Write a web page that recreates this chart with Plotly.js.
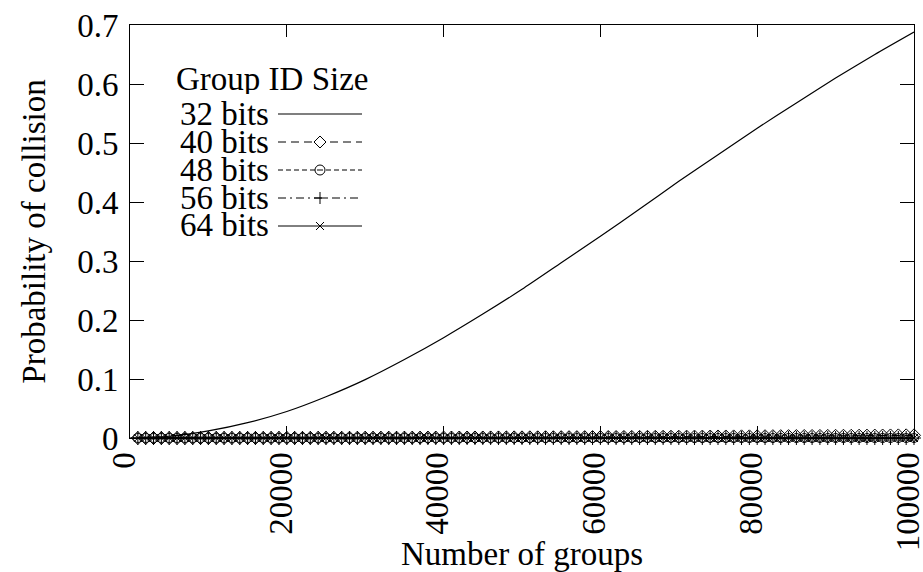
<!DOCTYPE html>
<html>
<head>
<meta charset="utf-8">
<script src="https://cdn.plot.ly/plotly-3.0.1.min.js"></script>
<style>
html,body{margin:0;padding:0;background:#fff;}
#chart{width:923px;height:572px;}
</style>
</head>
<body>
<div id="chart"></div>
<script>
// ---- data ----
const seriesNames = ["32 bits", "40 bits", "48 bits", "56 bits", "64 bits"];
const legendTitle = "Group ID Size";
const xTitle = "Number of groups";
const yTitle = "Probability of collision";

// 32-bit curve, sampled every 5000 groups
const curveGroups = [0, 5000, 10000, 15000, 20000, 25000, 30000, 35000, 40000, 45000, 50000,
  55000, 60000, 65000, 70000, 75000, 80000, 85000, 90000, 95000, 100000];
const bits32 = [0, 0.003, 0.012, 0.026, 0.045, 0.070, 0.099, 0.133, 0.170, 0.210, 0.252,
  0.297, 0.342, 0.388, 0.435, 0.480, 0.525, 0.568, 0.610, 0.650, 0.688];

// marker series, sampled every 1000 groups
const groups = [
  1000, 2000, 3000, 4000, 5000, 6000, 7000, 8000, 9000, 10000,
  11000, 12000, 13000, 14000, 15000, 16000, 17000, 18000, 19000, 20000,
  21000, 22000, 23000, 24000, 25000, 26000, 27000, 28000, 29000, 30000,
  31000, 32000, 33000, 34000, 35000, 36000, 37000, 38000, 39000, 40000,
  41000, 42000, 43000, 44000, 45000, 46000, 47000, 48000, 49000, 50000,
  51000, 52000, 53000, 54000, 55000, 56000, 57000, 58000, 59000, 60000,
  61000, 62000, 63000, 64000, 65000, 66000, 67000, 68000, 69000, 70000,
  71000, 72000, 73000, 74000, 75000, 76000, 77000, 78000, 79000, 80000,
  81000, 82000, 83000, 84000, 85000, 86000, 87000, 88000, 89000, 90000,
  91000, 92000, 93000, 94000, 95000, 96000, 97000, 98000, 99000, 100000];
const bits40 = [
  0, 0, 0, 0, 0, 0, 0, 0, 0, 0,
  0.0001, 0.0001, 0.0001, 0.0001, 0.0001, 0.0001, 0.0001, 0.0001, 0.0002, 0.0002,
  0.0002, 0.0002, 0.0002, 0.0003, 0.0003, 0.0003, 0.0003, 0.0004, 0.0004, 0.0004,
  0.0004, 0.0005, 0.0005, 0.0005, 0.0006, 0.0006, 0.0006, 0.0007, 0.0007, 0.0007,
  0.0008, 0.0008, 0.0008, 0.0009, 0.0009, 0.0010, 0.0010, 0.0010, 0.0011, 0.0011,
  0.0012, 0.0012, 0.0013, 0.0013, 0.0014, 0.0014, 0.0015, 0.0015, 0.0016, 0.0016,
  0.0017, 0.0017, 0.0018, 0.0019, 0.0019, 0.0020, 0.0020, 0.0021, 0.0022, 0.0022,
  0.0023, 0.0024, 0.0024, 0.0025, 0.0026, 0.0026, 0.0027, 0.0028, 0.0028, 0.0029,
  0.0030, 0.0031, 0.0031, 0.0032, 0.0033, 0.0034, 0.0034, 0.0035, 0.0036, 0.0037,
  0.0038, 0.0038, 0.0039, 0.0040, 0.0041, 0.0042, 0.0043, 0.0044, 0.0045, 0.0045];
const bits48 = [
  0,0,0,0,0,0,0,0,0,0, 0,0,0,0,0,0,0,0,0,0,
  0,0,0,0,0,0,0,0,0,0, 0,0,0,0,0,0,0,0,0,0,
  0,0,0,0,0,0,0,0,0,0, 0,0,0,0,0,0,0,0,0,0,
  0,0,0,0,0,0,0,0,0,0, 0,0,0,0,0,0,0,0,0,0,
  0,0,0,0,0,0,0,0,0,0, 0,0,0,0,0,0,0,0,0,0];
const bits56 = [
  0,0,0,0,0,0,0,0,0,0, 0,0,0,0,0,0,0,0,0,0,
  0,0,0,0,0,0,0,0,0,0, 0,0,0,0,0,0,0,0,0,0,
  0,0,0,0,0,0,0,0,0,0, 0,0,0,0,0,0,0,0,0,0,
  0,0,0,0,0,0,0,0,0,0, 0,0,0,0,0,0,0,0,0,0,
  0,0,0,0,0,0,0,0,0,0, 0,0,0,0,0,0,0,0,0,0];
const bits64 = [
  0,0,0,0,0,0,0,0,0,0, 0,0,0,0,0,0,0,0,0,0,
  0,0,0,0,0,0,0,0,0,0, 0,0,0,0,0,0,0,0,0,0,
  0,0,0,0,0,0,0,0,0,0, 0,0,0,0,0,0,0,0,0,0,
  0,0,0,0,0,0,0,0,0,0, 0,0,0,0,0,0,0,0,0,0,
  0,0,0,0,0,0,0,0,0,0, 0,0,0,0,0,0,0,0,0,0];

// ---- styling ----
const FONT = "Liberation Serif, DejaVu Serif, Times New Roman, serif";
const FS = 33;
const INK = "#000";

const styles = [
  {dash: "solid", symbol: null, size: 0},
  {dash: "8px,5px", symbol: "diamond-open", size: 10},
  {dash: "5px,3px", symbol: "circle-open", size: 9},
  {dash: "8px,4px,2px,4px", symbol: "cross-thin-open", size: 10},
  {dash: "solid", symbol: "x-thin-open", size: 8}
];

const traces = [{
  x: curveGroups, y: bits32, name: seriesNames[0], type: "scatter", mode: "lines",
  line: {color: INK, width: 1.2, shape: "spline", smoothing: 0.6},
  showlegend: false, hoverinfo: "skip"
}];
[bits40, bits48, bits56, bits64].forEach((ys, i) => {
  const s = styles[i + 1];
  traces.push({
    x: groups, y: ys, name: seriesNames[i + 1], type: "scatter", mode: "lines+markers",
    line: {color: INK, width: 1, dash: s.dash},
    marker: {symbol: s.symbol, size: s.size, color: INK, line: {color: INK, width: 1}},
    showlegend: false, hoverinfo: "skip", cliponaxis: false
  });
});

// plot area in pixels
const L = 130, R = 914, T = 25, B = 438;
const W = 923, H = 572;
const px = x => (x - L) / (R - L);
const py = y => (B - y) / (B - T);

// gnuplot-style key: text on the left, sample on the right (layout decoration)
const annotations = [];
const shapes = [];
annotations.push({
  xref: "paper", yref: "paper", x: px(272), y: py(79), xanchor: "center", yanchor: "middle",
  text: legendTitle, showarrow: false, height: 30, valign: "middle",
  font: {family: FONT, size: FS, color: INK}
});
const rowY = [113, 141, 169, 197, 225];
const sx0 = 278, sx1 = 362, mx = 320;
seriesNames.forEach((nm, i) => {
  const y = rowY[i];
  annotations.push({
    xref: "paper", yref: "paper", x: px(271), y: py(y), xanchor: "right", yanchor: "middle",
    text: nm, showarrow: false, height: 27, valign: "middle",
    font: {family: FONT, size: FS, color: INK}
  });
  shapes.push({
    type: "line", xref: "paper", yref: "paper",
    x0: px(sx0), x1: px(sx1), y0: py(y + 1), y1: py(y + 1),
    line: {color: INK, width: i === 0 ? 1.2 : 1, dash: styles[i].dash}
  });
  const yc = y + 1;
  const r = 5;
  const P = (x, yy) => px(x) + "," + py(yy);
  let path = null;
  if (i === 1) path = "M" + P(mx, yc - 6) + " L" + P(mx + 6, yc) + " L" + P(mx, yc + 6) + " L" + P(mx - 6, yc) + " Z";
  if (i === 3) path = "M" + P(mx - 6, yc) + " L" + P(mx + 6, yc) + " M" + P(mx, yc - 6) + " L" + P(mx, yc + 6);
  if (i === 4) path = "M" + P(mx - 4, yc - 4) + " L" + P(mx + 4, yc + 4) + " M" + P(mx - 4, yc + 4) + " L" + P(mx + 4, yc - 4);
  if (path) shapes.push({type: "path", xref: "paper", yref: "paper", path: path,
    fillcolor: i === 1 ? "#fff" : "rgba(0,0,0,0)", line: {color: INK, width: 1}});
  if (i === 2) {
    shapes.push({type: "circle", xref: "paper", yref: "paper",
      x0: px(mx - r), x1: px(mx + r), y0: py(yc + r), y1: py(yc - r), fillcolor: "#fff", line: {color: INK, width: 1}});
    shapes.push({type: "line", xref: "paper", yref: "paper",
      x0: px(mx - 3), x1: px(mx + 3), y0: py(yc), y1: py(yc), line: {color: INK, width: 1}});
  }
});

const layout = {
  width: W, height: H,
  margin: {l: L, r: W - R, t: T, b: H - B, pad: 0},
  paper_bgcolor: "#fff", plot_bgcolor: "#fff",
  font: {family: FONT, size: FS, color: INK},
  showlegend: false,
  xaxis: {
    range: [0, 100000], tickmode: "linear", tick0: 0, dtick: 20000, tickformat: "d",
    tickangle: -90, ticks: "inside", ticklen: 12, tickwidth: 1, tickcolor: INK,
    ticklabeloverflow: "allow", ticklabelshift: -6,
    showline: true, linecolor: INK, linewidth: 1, mirror: "allticks",
    showgrid: false, zeroline: false, automargin: false,
    tickfont: {family: FONT, size: FS, color: INK},
    title: {text: xTitle, font: {family: FONT, size: FS, color: INK}, standoff: 6}
  },
  yaxis: {
    range: [0, 0.7], tickmode: "linear", tick0: 0, dtick: 0.1,
    ticks: "inside", ticklen: 14, tickwidth: 1, tickcolor: INK,
    ticklabeloverflow: "allow", ticklabelstandoff: 4,
    showline: true, linecolor: INK, linewidth: 1, mirror: "allticks",
    showgrid: false, zeroline: false, automargin: false,
    tickfont: {family: FONT, size: FS, color: INK},
    title: {text: yTitle, font: {family: FONT, size: FS, color: INK}, standoff: 21}
  },
  annotations: annotations,
  shapes: shapes
};

Plotly.newPlot("chart", traces, layout, {staticPlot: true, displayModeBar: false});
</script>
</body>
</html>
